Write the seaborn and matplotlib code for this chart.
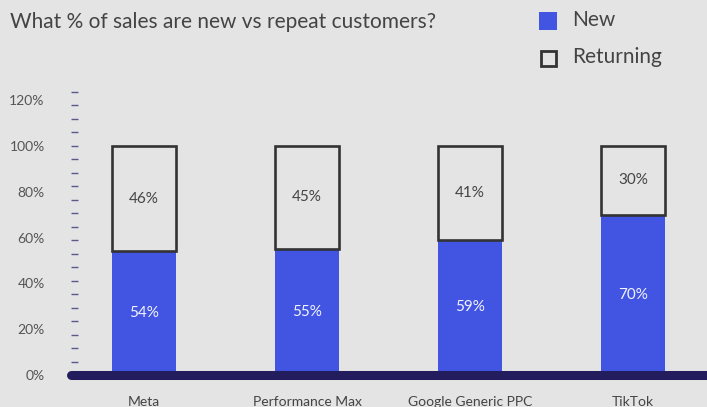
import matplotlib
matplotlib.use("Agg")
import matplotlib.pyplot as plt
import seaborn as sns
import pandas as pd
import numpy as np
from matplotlib.patches import Rectangle

categories = ["Meta", "Performance Max", "Google Generic PPC", "TikTok"]
new_vals = [54, 55, 59, 70]
returning_vals = [46, 45, 41, 30]
yticks = [0, 20, 40, 60, 80, 100, 120]

BG = "#e4e4e4"
BLUE = "#4154e2"
NAVY = "#231d5e"
DARK = "#333333"
TXT = "#444444"

sns.set_theme(style="white")
plt.rcParams["font.family"] = ["Lato", "DejaVu Sans"]

fig = plt.figure(figsize=(7.07, 4.07), dpi=100, facecolor=BG)
L = 71
ax = fig.add_axes([L / 707, 1 - 385 / 407, (707 - L) / 707, 305 / 407])
ax.set_facecolor(BG)

df = pd.DataFrame({"cat": categories, "new": new_vals, "ret": returning_vals})
sns.barplot(data=df, x="cat", y="new", color=BLUE, saturation=1, width=0.39,
            ax=ax, edgecolor="none")
xs = np.arange(len(categories))
ax.bar(xs, df["ret"], bottom=df["new"], width=0.39, facecolor="none",
       edgecolor=DARK, linewidth=1.9, zorder=3)

for x, n, r in zip(xs, new_vals, returning_vals):
    ax.text(x, n / 2, f"{n}%", ha="center", va="center", color="#f4f4ff", fontsize=11)
    ax.text(x, n + r / 2, f"{r}%", ha="center", va="center", color=TXT, fontsize=11)

ax.set_xlim((L - 144) / 163, (707 - 144) / 163)
ax.set_ylim(-4.4, 128.8)
ax.axhline(0, color=NAVY, linewidth=6.5, solid_capstyle="round", zorder=4, clip_on=False)

for s in ax.spines.values():
    s.set_visible(False)

ax.set_yticks(yticks)
ax.set_yticklabels([f"{v}%" for v in yticks], color="#555555", fontsize=10)
ax.tick_params(axis="y", which="major", length=0, pad=19)
ax.set_yticks(np.linspace(5.8, 123.6, 21), minor=True)
ax.tick_params(axis="y", which="minor", length=5, width=1, color="#5a5a8a", direction="in", left=True)
ax.set_xticks(xs)
ax.set_xticklabels(categories, color=TXT, fontsize=10)
ax.tick_params(axis="x", length=0, pad=8)
ax.set_xlabel("")
ax.set_ylabel("")

fig.text(10 / 707, 1 - 22 / 407, "What % of sales are new vs repeat customers?",
         fontsize=15, color=TXT, va="center", ha="left")

# legend
fig.patches.append(Rectangle((539 / 707, 1 - 30 / 407), 18 / 707, 18 / 407,
                             transform=fig.transFigure, facecolor=BLUE, edgecolor="none"))
fig.patches.append(Rectangle((541 / 707, 1 - 66 / 407), 15 / 707, 15 / 407,
                             transform=fig.transFigure, facecolor="none", edgecolor=DARK, linewidth=2))
fig.text(572 / 707, 1 - 20 / 407, "New", fontsize=15, color=TXT, va="center", ha="left")
fig.text(572 / 707, 1 - 57 / 407, "Returning", fontsize=15, color=TXT, va="center", ha="left")

fig.savefig("out.png", dpi=100, facecolor=BG)
